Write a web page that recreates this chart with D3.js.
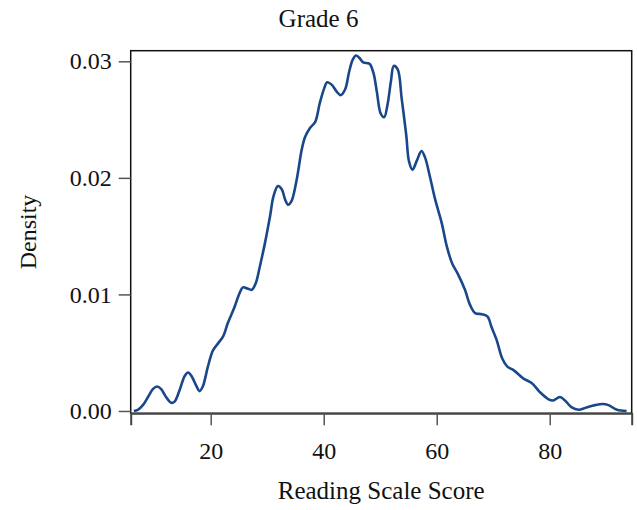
<!DOCTYPE html>
<html>
<head>
<meta charset="utf-8">
<script src="https://cdn.jsdelivr.net/npm/d3@7"></script>
<style>
  body { margin: 0; background: #fff; }
  svg text { font-family: "Liberation Serif", "Times New Roman", serif; fill: #111; }
</style>
</head>
<body>
<div id="chart"></div>
<script>
(function () {
  "use strict";

  // reading scale score (x) and estimated density (y)
  var scores = [
    6.4, 7.1, 8.0, 8.9, 9.8, 10.5, 11.2, 12.1, 13.0, 13.6, 14.5, 15.4, 16.0, 16.6, 17.5, 18.0, 18.6,
    19.5, 20.4, 21.3, 22.2, 23.0, 24.2, 25.1, 25.7, 26.5, 27.3, 28.0, 28.7, 29.6, 30.5, 31.1, 31.9,
    32.6, 33.2, 33.7, 34.3, 35.2, 36.1, 36.7, 37.6, 38.5, 39.3, 40.1, 40.6, 41.4, 42.3, 43.0, 43.8,
    44.5, 45.1, 45.7, 46.3, 47.0, 48.1, 48.8, 49.4, 50.1, 50.7, 51.3, 51.9, 52.4, 53.1, 53.8, 54.6,
    55.1, 55.7, 56.5, 57.3, 57.9, 58.8, 59.7, 60.9, 61.8, 62.7, 63.8, 65.0, 65.9, 66.8, 68.0, 69.0,
    69.7, 70.6, 71.6, 72.5, 73.6, 75.3, 76.8, 78.3, 79.8, 80.6, 81.8, 82.7, 83.9, 85.1, 86.5, 88.0,
    89.4, 90.4, 91.9, 93.6
  ];
  var density = [
    0.0000, 0.0001, 0.0005, 0.0012, 0.0019, 0.0021, 0.0019, 0.0012, 0.0007, 0.0008, 0.0018, 0.0030, 0.0033, 0.0030, 0.0021, 0.0017, 0.0021,
    0.0038, 0.0052, 0.0058, 0.0064, 0.0075, 0.0089, 0.0101, 0.0106, 0.0105, 0.0104, 0.0110, 0.0124, 0.0144, 0.0167, 0.0184, 0.0193,
    0.0190, 0.0181, 0.0177, 0.0180, 0.0198, 0.0224, 0.0235, 0.0243, 0.0248, 0.0264, 0.0277, 0.0282, 0.0280, 0.0274, 0.0271, 0.0276,
    0.0291, 0.0301, 0.0305, 0.0303, 0.0299, 0.0298, 0.0290, 0.0274, 0.0255, 0.0252, 0.0263, 0.0283, 0.0296, 0.0293, 0.0268, 0.0237,
    0.0214, 0.0207, 0.0215, 0.0223, 0.0218, 0.0201, 0.0182, 0.0161, 0.0141, 0.0127, 0.0117, 0.0104, 0.0091, 0.0084, 0.0083, 0.0081,
    0.0072, 0.0061, 0.0045, 0.0038, 0.0035, 0.0028, 0.0024, 0.0016, 0.0010, 0.0009, 0.0012, 0.0009, 0.0003, 0.0001, 0.0003, 0.0005,
    0.0006, 0.0005, 0.0001, 0.0000
  ];
  var xTicks = [20, 40, 60, 80];
  var yTicks = [0, 0.01, 0.02, 0.03];
  var title = "Grade 6";
  var xTitle = "Reading Scale Score";
  var yTitle = "Density";

  var width = 637, height = 510;
  var box = { left: 130.7, right: 631.7, top: 50.7, bottom: 413.3 };

  var x = d3.scaleLinear().domain([5.84, 94.51]).range([box.left, box.right]);
  var y = d3.scaleLinear().domain([-0.0002, 0.03091]).range([box.bottom, box.top]);

  var svg = d3.select("#chart")
    .append("svg")
    .attr("width", width)
    .attr("height", height);

  // frame
  svg.append("rect")
    .attr("x", box.left)
    .attr("y", box.top)
    .attr("width", box.right - box.left)
    .attr("height", box.bottom - box.top)
    .attr("fill", "none")
    .attr("stroke", "#111")
    .attr("stroke-width", 1.5);

  // y axis
  var yAxis = svg.append("g")
    .attr("transform", "translate(" + box.left + ",0)")
    .call(d3.axisLeft(y).tickValues(yTicks).tickFormat(d3.format(".2f")).tickSize(12).tickPadding(7));
  yAxis.select(".domain").remove();
  yAxis.selectAll(".tick line").attr("stroke", "#555").attr("stroke-width", 1.5);
  yAxis.selectAll(".tick text").attr("font-size", 24).attr("fill", "#111")
    .style("font-family", "'Liberation Serif', serif");

  // x axis
  var xAxis = svg.append("g")
    .attr("transform", "translate(0," + box.bottom + ")")
    .call(d3.axisBottom(x).tickValues(xTicks).tickSizeOuter(0).tickSize(12));
  xAxis.select(".domain").attr("stroke", "#444").attr("stroke-width", 2);
  xAxis.selectAll(".tick line").attr("stroke", "#555").attr("stroke-width", 1.5);
  xAxis.selectAll(".tick text").attr("font-size", 24).attr("fill", "#111")
    .attr("y", 29).attr("dy", "0.71em")
    .style("font-family", "'Liberation Serif', serif");

  // density curve
  var line = d3.line()
    .x(function (d, i) { return x(scores[i]); })
    .y(function (d) { return y(d); })
    .curve(d3.curveCatmullRom.alpha(0.5));

  svg.append("path")
    .datum(density)
    .attr("d", line)
    .attr("fill", "none")
    .attr("stroke", "#1a478a")
    .attr("stroke-width", 2.6)
    .attr("stroke-linejoin", "round");

  // titles
  svg.append("text")
    .attr("x", width / 2)
    .attr("y", 27)
    .attr("text-anchor", "middle")
    .attr("font-size", 25)
    .text(title);

  svg.append("text")
    .attr("x", (box.left + box.right) / 2)
    .attr("y", 499)
    .attr("text-anchor", "middle")
    .attr("font-size", 25)
    .text(xTitle);

  svg.append("text")
    .attr("transform", "translate(36," + (box.top + box.bottom) / 2 + ") rotate(-90)")
    .attr("text-anchor", "middle")
    .attr("font-size", 24)
    .text(yTitle);
}());
</script>
</body>
</html>
